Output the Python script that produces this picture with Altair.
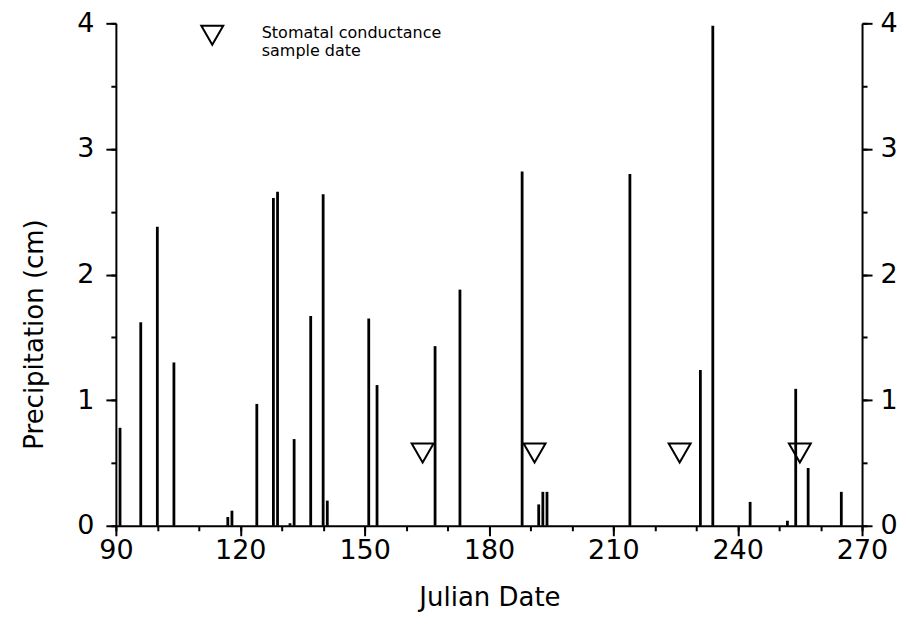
import altair as alt
import pandas as pd

# ---- data ----
days = [91, 96, 100, 104, 117, 118, 124, 128, 129, 132, 133, 137, 140, 141,
        151, 153, 167, 173, 188, 192, 193, 194, 214, 231, 234, 243, 252, 254,
        257, 265]
precip = [0.78, 1.62, 2.38, 1.30, 0.07, 0.12, 0.97, 2.61, 2.66, 0.02, 0.69,
          1.67, 2.64, 0.20, 1.65, 1.12, 1.43, 1.88, 2.82, 0.17, 0.27, 0.27,
          2.80, 1.24, 3.98, 0.19, 0.04, 1.09, 0.46, 0.27]

sample_days = [164, 191, 226, 255]
sample_level = [0.58, 0.58, 0.58, 0.58]

x_major = [90, 120, 150, 180, 210, 240, 270]
x_minor = [90, 100, 110, 120, 130, 140, 150, 160, 170, 180, 190, 200, 210,
           220, 230, 240, 250, 260, 270]
y_major = [0, 1, 2, 3, 4]
y_minor = [0, 0.5, 1, 1.5, 2, 2.5, 3, 3.5, 4]

legend_lines = ["Stomatal conductance", "sample date"]

FONT = "DejaVu Sans"

bars_df = pd.DataFrame({"day": days, "precip": precip})
samp_df = pd.DataFrame({"day": sample_days, "level": sample_level})

xscale = alt.Scale(domain=[90, 270], nice=False, zero=False, padding=0)
yscale = alt.Scale(domain=[0, 4], nice=False, zero=False, padding=0)

common = dict(domainColor="black", domainWidth=2, tickColor="black",
              tickWidth=2, labelColor="black", labelFont=FONT,
              labelFontSize=27, grid=False, labelOverlap=False,
              labelFlush=False)

# main bars with major bottom and left axes
bars = alt.Chart(bars_df).mark_bar(size=2.8, color="black").encode(
    x=alt.X("day:Q", scale=xscale,
            axis=alt.Axis(orient="bottom", values=x_major, tickSize=10,
                          labelPadding=2, format="d",
                          title="Julian Date", titleFont=FONT,
                          titleFontSize=26, titleFontWeight="normal",
                          titleColor="black", titleX=374, titleY=72,
                          titleAlign="center", titleBaseline="middle",
                          **common)),
    y=alt.Y("precip:Q", scale=yscale,
            axis=alt.Axis(orient="left", values=y_major, tickSize=10,
                          labelPadding=12, format="d",
                          title="Precipitation (cm)", titleFont=FONT,
                          titleFontSize=26, titleFontWeight="normal",
                          titleColor="black", titleX=-81, titleY=311,
                          titleAlign="center", titleBaseline="middle",
                          titleAngle=270, **common)),
)

# minor ticks bottom & left
minor = alt.Chart(bars_df).mark_point(opacity=0).encode(
    x=alt.X("day:Q", scale=xscale,
            axis=alt.Axis(orient="bottom", values=x_minor, tickSize=5,
                          labels=False, domain=False, title=None,
                          tickColor="black", tickWidth=2, grid=False)),
    y=alt.Y("precip:Q", scale=yscale,
            axis=alt.Axis(orient="left", values=y_minor, tickSize=5,
                          labels=False, domain=False, title=None,
                          tickColor="black", tickWidth=2, grid=False)),
)

# right axis, major
right_major = alt.Chart(bars_df).mark_point(opacity=0).encode(
    x=alt.X("day:Q", scale=xscale, axis=None),
    y=alt.Y("precip:Q", scale=yscale,
            axis=alt.Axis(orient="right", values=y_major, tickSize=10,
                          labelPadding=8, format="d", title=None, **common)),
)

# right axis, minor
right_minor = alt.Chart(bars_df).mark_point(opacity=0).encode(
    x=alt.X("day:Q", scale=xscale, axis=None),
    y=alt.Y("precip:Q", scale=yscale,
            axis=alt.Axis(orient="right", values=y_minor, tickSize=5,
                          labels=False, domain=False, title=None,
                          tickColor="black", tickWidth=2, grid=False)),
)

# sample-date triangles
tri = alt.Chart(samp_df).mark_point(
    shape="triangle-down", size=480, filled=False, color="black",
    strokeWidth=2, opacity=1
).encode(
    x=alt.X("day:Q", scale=xscale, axis=None),
    y=alt.Y("level:Q", scale=yscale, axis=None),
)

# legend (symbol + two-line text)
leg_df = pd.DataFrame({"k": [0]})
leg_sym = alt.Chart(leg_df).mark_point(
    shape="triangle-down", size=480, filled=False, color="black",
    strokeWidth=2, opacity=1
).encode(x=alt.value(96.5), y=alt.value(12))

leg_txt = alt.Chart(leg_df).mark_text(
    text=legend_lines, align="left", baseline="top", font=FONT,
    fontSize=16, lineHeight=18, color="black"
).encode(x=alt.value(146), y=alt.value(2))

chart = alt.layer(bars, minor, right_major, right_minor, tri, leg_sym,
                  leg_txt).resolve_axis(
    x="independent", y="independent"
).properties(
    width=747, height=503,
    autosize=alt.AutoSizeParams(type="none"),
    padding={"left": 108, "top": 15, "right": 36, "bottom": 95},
    background="white",
).configure_view(strokeOpacity=0)

chart.save("out.html", embed_options={"renderer": "svg", "actions": False})
